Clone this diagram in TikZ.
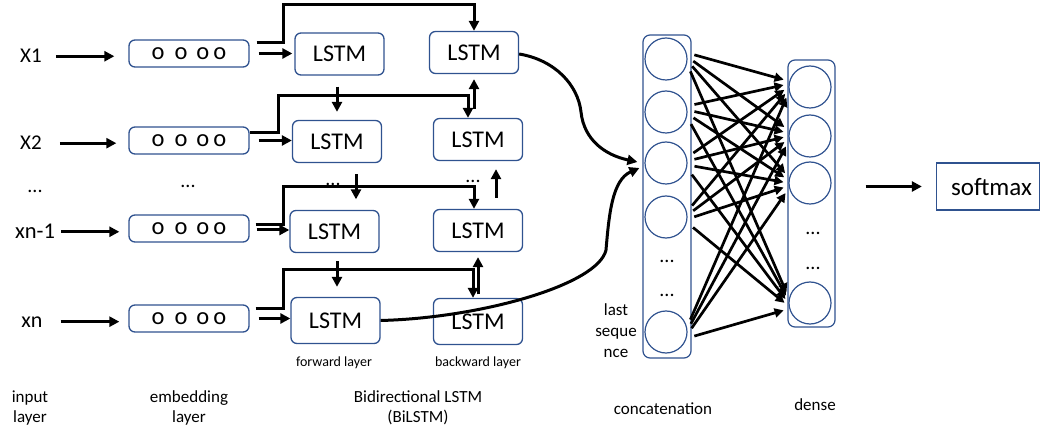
\documentclass[tikz,border=0pt]{standalone}
\usepackage{fontspec}
\setmainfont{Carlito}
\usetikzlibrary{arrows.meta,calc}
\definecolor{bord}{RGB}{47,82,143}
\newcommand{\embtext}{o\hspace{10pt}o\hspace{9pt}o\hspace{4pt}o}
\tikzset{
 rbox/.style={draw=bord, line width=1.3pt, rounded corners=6pt, inner sep=0pt, font=\fontsize{24}{26}\selectfont},
 lstm/.style={rbox, minimum width=89pt, minimum height=42pt},
 emb/.style={rbox, minimum width=120pt, minimum height=27pt, font=\fontsize{24.5}{26}\selectfont},
 neuron/.style={circle, draw=bord, line width=1.2pt, minimum size=42pt, inner sep=0pt},
 colbox/.style={draw=bord, line width=1.2pt, rounded corners=7pt, inner sep=0pt},
 conn/.style={line width=3pt},
 arr/.style={conn, -{Triangle[length=10pt,width=10pt]}},
 darr/.style={line width=2.7pt, -{Triangle[length=9pt,width=9pt]}, shorten <=7pt, shorten >=5pt},
 lbl/.style={font=\fontsize{17}{20}\selectfont, align=center, inner sep=0pt},
 inl/.style={font=\fontsize{21}{24}\selectfont, inner sep=0pt, anchor=base},
 dotlbl/.style={font=\fontsize{20}{20}\selectfont, inner sep=0pt, anchor=base},
}
\begin{document}
\begin{tikzpicture}[x=1pt,y=-1pt]
\useasboundingbox (0,0) rectangle (1041,430);

% input labels
\node[inl] (in1) at (31,63) {X1};
\node[inl] (in2) at (31,150) {X2};
\node[dotlbl] (ind) at (35,193) {...};
\node[inl, font=\fontsize{22.5}{24}\selectfont] (in3) at (35,239) {xn-1};
\node[inl, font=\fontsize{22}{24}\selectfont] (in4) at (32,327) {xn};

% embedding
\node[emb] (e1) at (189,53.5) {\embtext};
\node[emb] (e2) at (189,140.5) {\embtext};
\node[dotlbl] (ed) at (188,188) {...};
\node[emb] (e3) at (189,228.5) {\embtext};
\node[emb] (e4) at (189,318.5) {\embtext};

\draw[arr, shorten <=14pt, shorten >=14pt] (in1.east) -- (in1.east -| e1.west);
\draw[arr, shorten <=18pt, shorten >=12pt] (in2.east) -- (in2.east -| e2.west);
\draw[arr, shorten <=6pt, shorten >=9pt] (in3.east) -- (in3.east -| e3.west);
\draw[arr, shorten <=18pt, shorten >=9pt] (in4.east) -- (in4.east -| e4.west);

% LSTM boxes
\node[lstm] (f1) at (339.5,54) {LSTM};
\node[lstm] (f2) at (337,141.5) {LSTM};
\node[lstm] (f3) at (334.5,231.5) {LSTM};
\node[lstm, minimum height=46pt] (f4) at (335.5,320.5) {LSTM};
\node[lstm] (b1) at (474,52.5) {LSTM};
\node[lstm] (b2) at (478,139.5) {LSTM};
\node[lstm] (b3) at (478,230.5) {LSTM};
\node[lstm, minimum height=46pt] (b4) at (478,321.5) {LSTM};

\coordinate (k1) at (283,5);
\coordinate (k2) at (278,96);
\coordinate (k3) at (283,187);
\coordinate (k4) at (283,270);

% row 1
\draw[arr, shorten <=9pt, shorten >=2pt] (e1.east) -- (e1.east -| f1.west);
\draw[arr] ($(e1.east)+(7,-10.5)$) -| (k1) -| (b1.north);
% row 2
\draw[arr] ($(e2.east)+(0,-7.5)$) -| (k2) -| ($(b2.north)+(-10,0)$);
\draw[arr, shorten <=9pt] (e2.east) -- (e2.east -| f2.west);
\draw[arr, shorten <=11pt, shorten >=8pt] (f2.north |- f1.south) -- (f2.north);
\draw[arr, shorten <=9pt, shorten >=5pt] (b1.south |- b2.north) -- (b1.south);
% row 3
\draw[arr] ($(e3.east)+(6,-3.5)$) -| (k3) -| ($(b3.north)+(-4,0)$);
\draw[arr, shorten <=7pt] ($(e3.east)+(0,1.5)$) -- ($(e3.east -| f3.west)+(0,1.5)$);
\draw[arr, shorten <=11pt, shorten >=10.5pt] ($(f2.south)+(19,0)$) -- ($(f3.north)+(21.5,0)$);
\draw[arr, shorten <=11pt, shorten >=8pt] ($(b3.north)+(18,0)$) -- ($(b2.south)+(18,0)$);
\node[dotlbl] (fd) at (333,186) {...};
\node[dotlbl] (bd) at (473,183) {...};
% row 4
\draw[arr] ($(e4.east)+(6,-10.5)$) -| (k4) -| ($(b4.north)+(-5,0)$);
\draw[arr, shorten <=9pt] (e4.east) -- (e4.east -| f4.west);
\draw[arr, shorten <=8pt, shorten >=10pt] ($(f3.south)+(2.5,0)$) -- ($(f4.north)+(1.5,0)$);
\draw[arr, shorten <=3.5pt, shorten >=5pt] (b4.north) -- (b3.south);

\node[lbl, font=\fontsize{14}{16}\selectfont] (fl) at (334,363) {forward layer};
\node[lbl, font=\fontsize{14}{16}\selectfont] (bl) at (478,363) {backward layer};

% concatenation column
\node[colbox, minimum width=48pt, minimum height=323pt] (conc) at (667,196.5) {};
\node[neuron] (c1) at (666,59) {};
\node[neuron] (c2) at (666,112) {};
\node[neuron] (c3) at (666,163) {};
\node[neuron] (c4) at (666,217) {};
\node[dotlbl] (cd1) at (667,263) {...};
\node[dotlbl] (cd2) at (667,297) {...};
\node[neuron] (c5) at (666,332) {};
\node[lbl, font=\fontsize{17}{21}\selectfont] (last) at (616,331) {last\\seque\\nce};

% curves into concatenation
\draw[arr] ($(b1.east)+(0,1.5)$) .. controls (555,60) and (578,85) .. (581,112) .. controls (584,140) and (605,155) .. ($(c3.west)+(-7,-1)$);
\draw[arr] (f4.east) .. controls (480,318) and (598,285) .. (606,250) .. controls (609,215) and (612,180) .. ($(c3.west)+(-5,5)$);

% dense column
\node[colbox, minimum width=47pt, minimum height=267pt] (dense) at (811.5,193.5) {};
\node[neuron] (d1) at (810,87) {};
\node[neuron] (d2) at (810,136) {};
\node[neuron] (d3) at (810,183) {};
\node[dotlbl] (dd1) at (813,235) {...};
\node[dotlbl] (dd2) at (813,270) {...};
\node[neuron] (d4) at (810,303) {};

\foreach \i in {1,...,5}{
  \foreach \j in {1,...,4}{
    \draw[darr] ($(c\i.east)+(0,{(\j-2.5)*4})$) -- ($(d\j.west)+(0,{(\i-3)*3})$);
  }
}

% softmax
\node[draw=bord, line width=1.3pt, minimum width=103pt, minimum height=47pt, inner sep=0pt] (soft) at (988,186.5) {};
\node[font=\fontsize{25}{26}\selectfont, inner sep=0pt] (softtxt) at (991.5,187) {softmax};
\draw[arr, shorten <=30pt, shorten >=14pt] (dense.east |- soft.west) -- (soft.west);

% bottom labels
\node[lbl] (l1) at (30,408) {input\\layer};
\node[lbl] (l2) at (189,408) {embedding\\layer};
\node[lbl] (l3) at (418,408) {Bidirectional LSTM\\(BiLSTM)};
\node[lbl] (l4) at (663,409) {concatenation};
\node[lbl] (l5) at (815,405) {dense};
\end{tikzpicture}
\end{document}
